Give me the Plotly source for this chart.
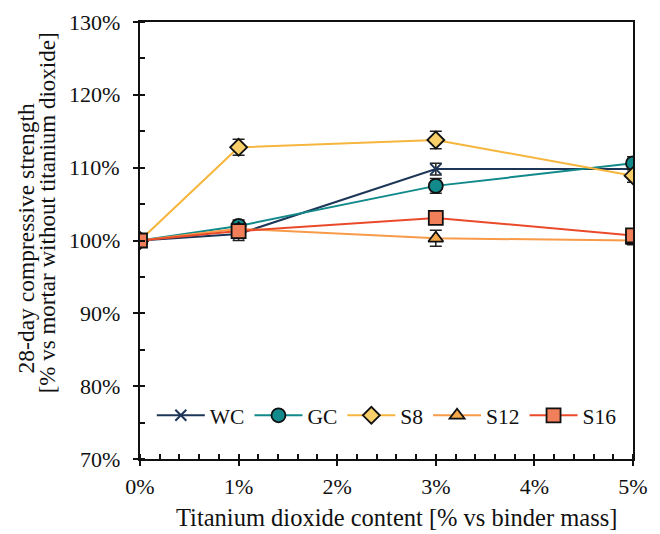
import plotly.graph_objects as go

# Titanium dioxide content (% of binder mass)
tio2 = [0, 1, 3, 5]

# 28-day compressive strength relative to mortar without TiO2 (%)
wc = [100.0, 100.9, 109.8, 109.8]
gc = [100.0, 102.0, 107.5, 110.6]
s8 = [100.0, 112.8, 113.8, 108.9]
s12 = [100.0, 101.6, 100.3, 100.0]
s16 = [100.0, 101.3, 103.1, 100.7]

# Standard deviations (percentage points)
wc_err = [0.0, 0.9, 0.8, 0.6]
gc_err = [0.0, 0.8, 1.0, 0.9]
s8_err = [0.0, 1.1, 1.2, 0.9]
s12_err = [0.0, 0.6, 1.1, 0.6]
s16_err = [0.0, 0.6, 0.7, 0.6]

x_ticks = [0, 1, 2, 3, 4, 5]
x_labels = ["0%", "1%", "2%", "3%", "4%", "5%"]
y_ticks = [70, 80, 90, 100, 110, 120, 130]
y_labels = ["70%", "80%", "90%", "100%", "110%", "120%", "130%"]

series = [
    ("WC", wc, wc_err, "#1d3557", "x-thin-open", "#1d3557", 11),
    ("GC", gc, gc_err, "#12898a", "circle", "#12898a", 14),
    ("S8", s8, s8_err, "#f6b53c", "diamond", "#f8cf69", 13),
    ("S12", s12, s12_err, "#f89a48", "triangle-up", "#f6a84a", 13),
    ("S16", s16, s16_err, "#ea4a2a", "square", "#f17f59", 14),
]

font = "Liberation Serif, Times New Roman, serif"
ink = "#111111"

fig = go.Figure()
for name, vals, errs, lc, sym, fc, size in series:
    if sym == "x-thin-open":
        marker = dict(symbol=sym, size=size, color=fc, line=dict(color=lc, width=2))
    else:
        marker = dict(symbol=sym, size=size, color=fc, line=dict(color=ink, width=1.8))
    fig.add_trace(go.Scatter(
        x=tio2, y=vals, name=name, mode="lines+markers",
        line=dict(color=lc, width=2),
        marker=marker,
        error_y=dict(type="data", array=errs, visible=True,
                     color="#222222", thickness=1.5, width=6),
    ))

# y tick labels, set a little further from the axis than plotly's default
y_label_notes = [
    dict(text=lab, xref="paper", yref="y", x=-0.036, y=val,
         xanchor="right", yanchor="middle", showarrow=False,
         font=dict(size=22, family=font, color=ink))
    for val, lab in zip(y_ticks, y_labels)
]

fig.update_layout(
    width=660, height=534,
    margin=dict(l=140, r=23, t=22, b=75),
    paper_bgcolor="white", plot_bgcolor="white",
    font=dict(family=font, size=22, color=ink),
    showlegend=True,
    legend=dict(orientation="h", x=0.024, y=0.10, xanchor="left", yanchor="middle",
                bgcolor="rgba(0,0,0,0)", font=dict(size=21.5, family=font),
                itemwidth=48, tracegroupgap=0),
    annotations=y_label_notes + [
        dict(text="Titanium dioxide content [% vs binder mass]",
             xref="paper", yref="paper", x=0.521, y=-0.170,
             xanchor="center", yanchor="bottom", showarrow=False,
             font=dict(size=24.5, family=font, color=ink)),
        dict(text="28-day compressive strength",
             xref="paper", yref="paper", x=-0.231, y=0.505, textangle=-90,
             xanchor="center", yanchor="middle", showarrow=False,
             font=dict(size=23.5, family=font, color=ink)),
        dict(text="[% vs mortar without titanium dioxide]",
             xref="paper", yref="paper", x=-0.187, y=0.564, textangle=-90,
             xanchor="center", yanchor="middle", showarrow=False,
             font=dict(size=23, family=font, color=ink)),
    ],
)

fig.update_xaxes(
    range=[0, 5], tickvals=x_ticks, ticktext=x_labels,
    showgrid=False, zeroline=False,
    showline=True, linecolor=ink, linewidth=2, mirror=True,
    ticks="outside", ticklen=5, tickwidth=2, tickcolor=ink,
    ticklabelstandoff=2,
    minor=dict(dtick=0.2, ticks="inside", ticklen=5, tickwidth=1.5, tickcolor=ink),
    tickfont=dict(size=22, family=font),
)

fig.update_yaxes(
    range=[70, 130], tickvals=y_ticks, showticklabels=False,
    showgrid=False, zeroline=False,
    showline=True, linecolor=ink, linewidth=2, mirror=True,
    ticks="outside", ticklen=5, tickwidth=2, tickcolor=ink,
    minor=dict(dtick=5, ticks="inside", ticklen=5, tickwidth=1.5, tickcolor=ink),
)

fig.write_html("out.html")
